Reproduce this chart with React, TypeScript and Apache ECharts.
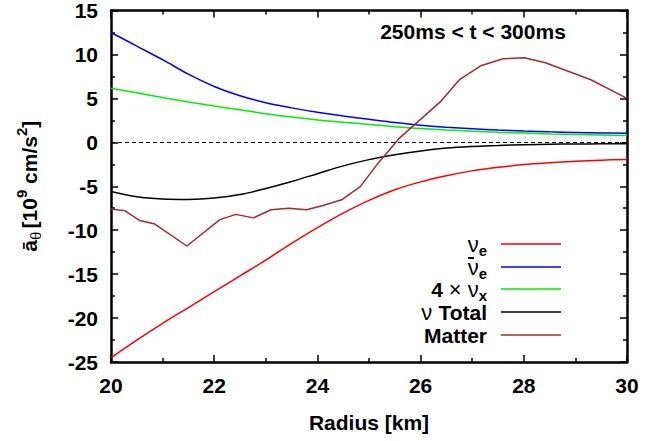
import React, { useEffect, useRef } from "react";
import * as echarts from "echarts";

// ---- data ----
const radius = [20, 20.5, 21, 21.5, 22, 22.5, 23, 23.5, 24, 24.5, 25, 25.5, 26, 26.5, 27, 27.5, 28, 28.5, 29, 29.5, 30];
const nuE = [-24.5, -22.5, -20.6, -18.8, -17.0, -15.2, -13.4, -11.5, -9.7, -8.05, -6.6, -5.4, -4.5, -3.8, -3.25, -2.85, -2.53, -2.32, -2.15, -2.03, -1.95];
const nuEbar = [12.5, 10.95, 9.4, 7.75, 6.35, 5.3, 4.5, 3.92, 3.42, 3.0, 2.62, 2.25, 1.94, 1.72, 1.55, 1.4, 1.28, 1.19, 1.12, 1.07, 1.04];
const nuX4 = [6.15, 5.63, 5.1, 4.6, 4.13, 3.7, 3.26, 2.88, 2.55, 2.28, 2.04, 1.78, 1.57, 1.41, 1.27, 1.15, 1.05, 0.96, 0.9, 0.84, 0.78];
const nuTotal = [-5.6, -6.2, -6.45, -6.5, -6.35, -5.95, -5.26, -4.46, -3.57, -2.68, -1.97, -1.42, -0.98, -0.66, -0.48, -0.37, -0.27, -0.22, -0.19, -0.17, -0.15];
const matterR = [20, 20.27, 20.56, 20.85, 21.47, 22.11, 22.42, 22.76, 23.1, 23.44, 23.79, 24.11, 24.47, 24.83, 25.2, 25.6, 26.38, 26.76, 27.18, 27.6, 28.01, 28.42, 29.3, 30];
const matterA = [-7.6, -7.8, -8.9, -9.3, -11.8, -8.8, -8.2, -8.6, -7.67, -7.5, -7.67, -7.2, -6.54, -5.04, -2.2, 0.54, 4.6, 7.17, 8.75, 9.5, 9.63, 9.05, 7.12, 5.0];

const xTicks = { min: 20, max: 30, interval: 2 };
const yTicks = { min: -25, max: 15, interval: 5 };
const titleText = "250ms < t < 300ms";

const FONT = "'Liberation Sans', Arial, Helvetica, sans-serif";
const COLORS = { nuE: "#ff0000", nuEbar: "#0000ff", nuX: "#00ee00", total: "#000000", matter: "#a52a2a" };

const pairs = (xs: number[], ys: number[]) => xs.map((x, i) => [x, ys[i]]);

const legendItems = [
  { text: "{n|ν}{s|e}", color: COLORS.nuE, bar: false },
  { text: "{n|ν}{s|e}", color: COLORS.nuEbar, bar: true },
  { text: "{b|4 }{n|× ν}{s|x}", color: COLORS.nuX, bar: false },
  { text: "{n|ν }{b|Total}", color: COLORS.total, bar: false },
  { text: "{b|Matter}", color: COLORS.matter, bar: false },
];

const richLegend = {
  n: { fontFamily: FONT, fontSize: 22, fontWeight: "normal", color: "#000", lineHeight: 20 },
  b: { fontFamily: FONT, fontSize: 21, fontWeight: "bold", color: "#000", lineHeight: 20 },
  s: { fontFamily: FONT, fontSize: 15, fontWeight: "bold", color: "#000", lineHeight: 4, padding: [12, 0, 0, 0] },
};

export default function App() {
  const ref = useRef<HTMLDivElement>(null);
  useEffect(() => {
    const chart = echarts.init(ref.current!, null, { renderer: "svg" });
    const axisCommon = {
      type: "value",
      axisLine: { show: true, onZero: false, lineStyle: { color: "#000", width: 2.5 } },
      axisTick: { show: true, inside: true, length: 7, lineStyle: { color: "#000", width: 1.5 } },
      minorTick: { show: true, splitNumber: 2, length: 4, lineStyle: { color: "#000", width: 1.5 } },
      splitLine: { show: false },
      minorSplitLine: { show: false },
    };
    const lineSeries = (name: string, data: number[][], color: string, smooth: boolean) => ({
      name,
      type: "line",
      data,
      symbol: "none",
      smooth: smooth ? 0.35 : false,
      xAxisIndex: 0,
      yAxisIndex: 0,
      lineStyle: { color, width: 1.5 },
      itemStyle: { color },
    });
    const legendY = [244, 267, 289, 312, 335];
    const graphics: any[] = [
      {
        type: "text",
        x: 473,
        y: 31,
        style: { text: titleText, fontFamily: FONT, fontSize: 21, fontWeight: "bold", fill: "#000", align: "center", verticalAlign: "middle" },
      },
    ];
    legendItems.forEach((it, i) => {
      graphics.push({
        type: "text",
        x: 487,
        y: legendY[i],
        style: { text: it.text, rich: richLegend, align: "right", verticalAlign: "middle" },
      });
      if (it.bar) {
        graphics.push({
          type: "line",
          shape: { x1: 468, y1: legendY[i] - 9, x2: 474, y2: legendY[i] - 9 },
          style: { stroke: "#000", lineWidth: 2 },
        });
      }
      graphics.push({
        type: "line",
        shape: { x1: 501, y1: legendY[i], x2: 561, y2: legendY[i] },
        style: { stroke: it.color, lineWidth: 1.5 },
      });
    });

    chart.setOption({
      animation: false,
      backgroundColor: "#fff",
      grid: { left: 111, right: 40, top: 8, bottom: 79, containLabel: false },
      xAxis: [
        {
          ...axisCommon,
          position: "bottom",
          ...xTicks,
          axisLabel: { fontFamily: FONT, fontSize: 21, fontWeight: "bold", color: "#000", margin: 13 },
          name: "Radius [km]",
          nameLocation: "middle",
          nameGap: 50,
          nameTextStyle: { fontFamily: FONT, fontSize: 21, fontWeight: "bold", color: "#000" },
        },
        { ...axisCommon, position: "top", ...xTicks, axisLabel: { show: false } },
      ],
      yAxis: [
        {
          ...axisCommon,
          position: "left",
          ...yTicks,
          axisLabel: { fontFamily: FONT, fontSize: 21, fontWeight: "bold", color: "#000", margin: 13 },
          name: "{a|ā}{t|θ} {b|[10}{p|9}{b| cm/s}{p|2}{b|]}",
          nameLocation: "middle",
          nameGap: 72,
          nameTextStyle: {
            rich: {
              a: { fontFamily: FONT, fontSize: 21, fontWeight: "bold", color: "#000", lineHeight: 20 },
              t: { fontFamily: FONT, fontSize: 15, fontWeight: "normal", color: "#000", lineHeight: 8, padding: [12, 0, 0, 0] },
              b: { fontFamily: FONT, fontSize: 21, fontWeight: "bold", color: "#000", lineHeight: 20 },
              p: { fontFamily: FONT, fontSize: 15, fontWeight: "bold", color: "#000", lineHeight: 4, padding: [0, 0, 16, 0] },
            },
          },
        },
        { ...axisCommon, position: "right", ...yTicks, axisLabel: { show: false } },
      ],
      graphic: graphics,
      series: [
        {
          ...lineSeries("ν_e", pairs(radius, nuE), COLORS.nuE, true),
          markLine: {
            silent: true,
            symbol: "none",
            label: { show: false },
            lineStyle: { color: "#000", width: 1, type: [4, 3] },
            data: [{ yAxis: 0 }],
          },
        },
        lineSeries("ν̄_e", pairs(radius, nuEbar), COLORS.nuEbar, true),
        lineSeries("4×ν_x", pairs(radius, nuX4), COLORS.nuX, true),
        lineSeries("ν Total", pairs(radius, nuTotal), COLORS.total, true),
        lineSeries("Matter", pairs(matterR, matterA), COLORS.matter, false),
      ],
    });
    return () => chart.dispose();
  }, []);
  return <div ref={ref} style={{ position: "fixed", left: 0, top: 0, width: 667, height: 441, background: "#fff" }} />;
}
